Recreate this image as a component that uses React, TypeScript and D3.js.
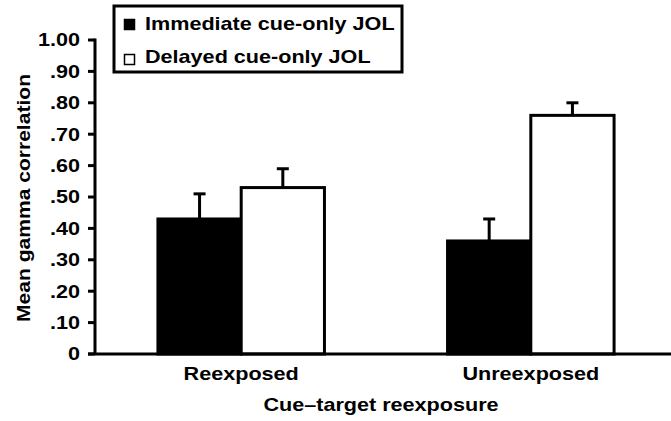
import React from "react";
import * as d3 from "d3";

const categories = ["Reexposed", "Unreexposed"];
const seriesNames = ["Immediate cue-only JOL", "Delayed cue-only JOL"];
const immediateMeans = [0.43, 0.36];
const immediateErr = [0.08, 0.07];
const delayedMeans = [0.53, 0.76];
const delayedErr = [0.06, 0.04];
const yTicks = [0, 0.1, 0.2, 0.3, 0.4, 0.5, 0.6, 0.7, 0.8, 0.9, 1.0];
const yTickLabels = ["0", ".10", ".20", ".30", ".40", ".50", ".60", ".70", ".80", ".90", "1.00"];

const W = 671, H = 421;
const font = "'Liberation Sans', Arial, sans-serif";
const SX = 1.2;

function T({ x, y, anchor = "start", size = 18, dy, children }: any) {
  return (
    <g transform={`translate(${x},${y}) scale(${SX},1)`}>
      <text textAnchor={anchor} fontSize={size} dy={dy}>{children}</text>
    </g>
  );
}

export default function App() {
  const x0 = 95, xEnd = 671;
  const y = d3.scaleLinear().domain([0, 1]).range([354, 40]);
  const xBand = d3.scaleBand().domain(categories).range([100, 672]).paddingInner(0.425).paddingOuter(0.2);
  const xSub = d3.scaleBand().domain(["0", "1"]).range([0, xBand.bandwidth()]);
  const series = [
    { means: immediateMeans, err: immediateErr, fill: "#000" },
    { means: delayedMeans, err: delayedErr, fill: "#fff" },
  ];
  return (
    <svg width={W} height={H} style={{ position: "absolute", left: 0, top: 0, background: "#fff" }} fontFamily={font} fontWeight="bold">
      {categories.map((c, ci) =>
        series.map((s, si) => {
          const bx = (xBand(c) as number) + (xSub(String(si)) as number);
          const bw = xSub.bandwidth();
          const top = y(s.means[ci]);
          const cx = bx + bw / 2;
          const et = y(s.means[ci] + s.err[ci]);
          return (
            <g key={c + si}>
              <line x1={cx} x2={cx} y1={top} y2={et} stroke="#000" strokeWidth={3} />
              <line x1={cx - 6} x2={cx + 6} y1={et} y2={et} stroke="#000" strokeWidth={3} />
              <rect x={bx} y={top} width={bw} height={y(0) - top} fill={s.fill} stroke="#000" strokeWidth={3} />
            </g>
          );
        })
      )}
      <line x1={x0} x2={x0} y1={y(1) - 1.5} y2={y(0)} stroke="#000" strokeWidth={3} />
      {yTicks.map((t, i) => (
        <g key={t}>
          <line x1={88} x2={x0} y1={y(t)} y2={y(t)} stroke="#000" strokeWidth={3} />
          <T x={80} y={y(t)} anchor="end" dy="0.36em">{yTickLabels[i]}</T>
        </g>
      ))}
      <line x1={88} x2={xEnd} y1={y(0)} y2={y(0)} stroke="#000" strokeWidth={3} />
      {categories.map((c) => (
        <T key={c} x={(xBand(c) as number) + xBand.bandwidth() / 2} y={380} anchor="middle">{c}</T>
      ))}
      <T x={381} y={411} anchor="middle">Cue–target reexposure</T>
      <g transform="translate(30,198) rotate(-90)">
        <text textAnchor="middle" fontSize={18.5} textLength={248} lengthAdjust="spacingAndGlyphs">Mean gamma correlation</text>
      </g>
      <rect x={114} y={6} width={288} height={66} fill="#fff" stroke="#000" strokeWidth={3} />
      {seriesNames.map((n, i) => (
        <g key={n}>
          <rect x={124.5} y={19.5 + i * 35} width={10} height={10} fill={i === 0 ? "#000" : "#fff"} stroke="#000" strokeWidth={1.5} />
          <T x={145} y={30 + i * 33}>{n}</T>
        </g>
      ))}
    </svg>
  );
}
